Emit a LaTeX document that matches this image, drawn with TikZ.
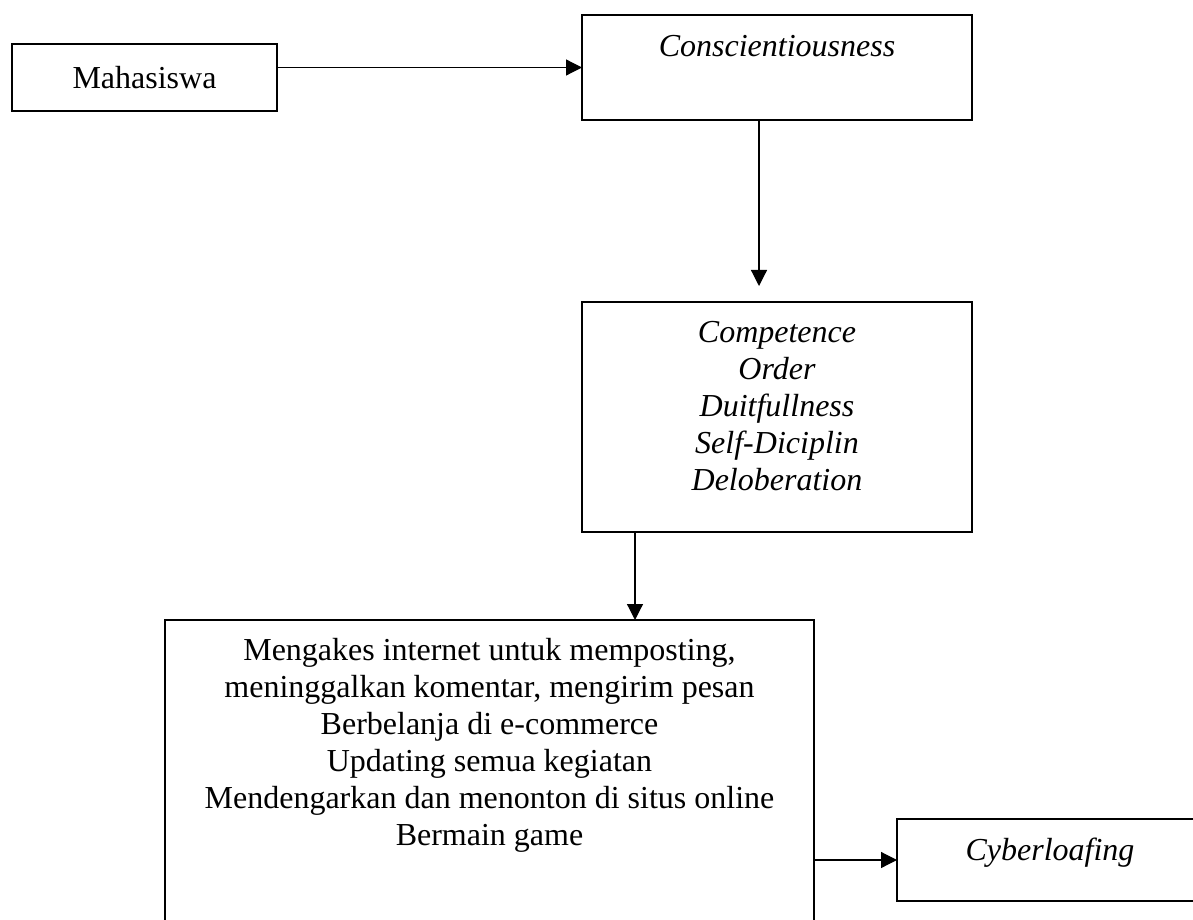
\documentclass[tikz,border=0pt]{standalone}
\usepackage{fontspec}
\setmainfont{Liberation Serif}
\usepackage{tikz}
\usetikzlibrary{arrows.meta,calc,positioning,shapes}
\tikzset{%
	box/.style   = {draw, rectangle, line width=1pt, inner sep=0pt, outer sep=0pt}, % Box
	txt/.style   = {align=center, inner sep=0pt, font=\fontsize{24}{27.75}\selectfont}, % Text
	arrow/.style = {line width=0.9pt, -{Triangle[length=12pt,width=12pt]}},
}

\begin{document}
\begin{tikzpicture}[x=0.75pt,y=-0.75pt]
	\useasboundingbox (0,0) rectangle (1193,920);
	\node [box,txt,minimum width=198.75pt,minimum height=50.25pt] (mhs) at (144.5,77.5) {Mahasiswa};
	\node [box,minimum width=292.5pt,minimum height=78.75pt] (cons) at (777,67.5) {};
	\node [box,minimum width=292.5pt,minimum height=172.5pt] (comp) at (777,417) {};
	\node [box,minimum width=486.75pt,minimum height=255pt] (big) at (489.5,790) {};
	\node [box,minimum width=229.5pt,minimum height=61.5pt] (cyb) at (1050,860) {};
	
	\node [txt,anchor=base] (consT) at ($(cons.north)+(0,42)$) {\itshape Conscientiousness};
	\node [txt,anchor=north] (compT) at ($(comp.north)+(0,19)$) {\itshape Competence\\ \itshape Order\\ \itshape Duitfullness\\ \itshape Self-Diciplin\\ \itshape Deloberation};
	\node [txt,anchor=north] (bigT) at ($(big.north)+(0,18)$) {Mengakes internet untuk memposting,\\ meninggalkan komentar, mengirim pesan\\ Berbelanja di e-commerce\\ Updating semua kegiatan\\ Mendengarkan dan menonton di situs online\\ Bermain game};
	\node [txt,anchor=base] (cybT) at (cyb.center) {\itshape Cyberloafing};
	
	\coordinate (c1) at ([xshift=-13.5pt]cons.south);
	\coordinate (c2) at ([xshift=39.75pt]comp.south west);
	
	\draw[arrow] (mhs.east |- cons.west) -- (cons.west);
	\draw[arrow,shorten >=12pt] (c1) -- (c1 |- comp.north);
	\draw[arrow] (c2) -- (c2 |- big.north);
	\draw[arrow] (big.east |- cyb.west) -- (cyb.west);
\end{tikzpicture}
\end{document}
